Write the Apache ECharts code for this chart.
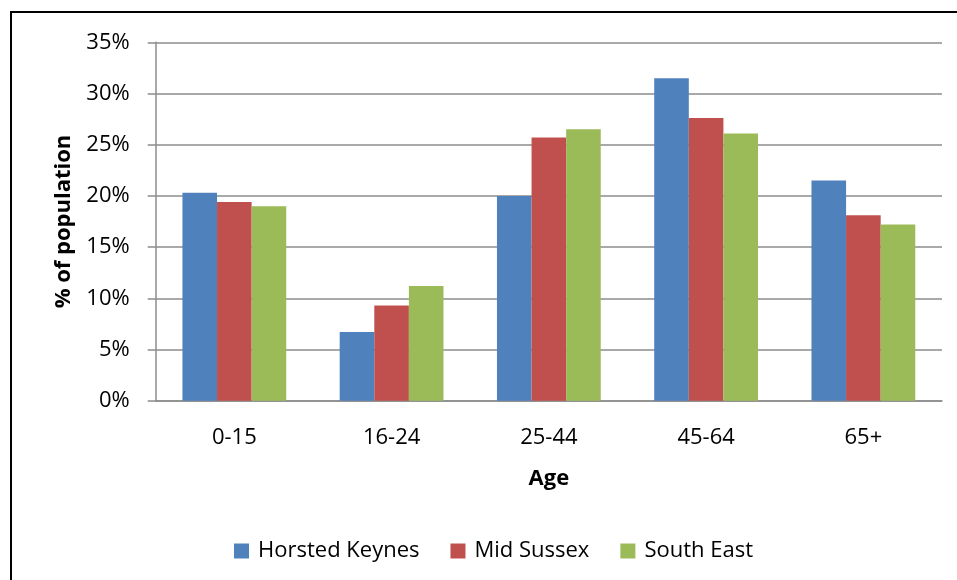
<!DOCTYPE html>
<html>
<head>
<meta charset="utf-8">
<script src="https://cdn.jsdelivr.net/npm/echarts@6/dist/echarts.min.js"></script>
<style>
html,body{margin:0;padding:0;background:#fff;}
#chart{width:957px;height:580px;}
</style>
</head>
<body>
<div id="chart"></div>
<script>
var categories = ['0-15', '16-24', '25-44', '45-64', '65+'];
var horstedKeynes = [20.3, 6.7, 20.0, 31.5, 21.5];
var midSussex = [19.4, 9.3, 25.7, 27.6, 18.1];
var southEast = [19.0, 11.2, 26.5, 26.1, 17.2];
var seriesNames = ['Horsted Keynes', 'Mid Sussex', 'South East'];
var yTicks = [0, 5, 10, 15, 20, 25, 30, 35];

var FONT = 'Open Sans';
var chart = echarts.init(document.getElementById('chart'));
function bar(name, data, color) {
  return {
    name: name, type: 'bar', data: data,
    barGap: '0%', barCategoryGap: '34%',
    itemStyle: { color: color },
    emphasis: { disabled: true }
  };
}
chart.setOption({
  animation: false,
  textStyle: { fontFamily: FONT },
  graphic: [{
    type: 'rect', silent: true,
    shape: { x: 11, y: 12, width: 1000, height: 1000 },
    style: { fill: 'none', stroke: '#000', lineWidth: 2 }
  }],
  grid: { left: 155.7, right: 15, top: 42.3, bottom: 179.3 },
  legend: {
    left: 229, top: 535,
    itemWidth: 15, itemHeight: 15, itemGap: 31,
    icon: 'rect',
    data: seriesNames,
    textStyle: { fontFamily: FONT, fontSize: 22, color: '#000', padding: [0, 0, 0, 4] }
  },
  xAxis: {
    type: 'category', data: categories,
    name: 'Age', nameLocation: 'middle', nameGap: 67,
    nameTextStyle: { fontFamily: FONT, fontSize: 22, fontWeight: 'bold', color: '#000' },
    axisLine: { lineStyle: { color: '#8c8c8c', width: 1.5 } },
    axisTick: { show: false },
    axisLabel: { fontFamily: FONT, fontSize: 22, color: '#000', margin: 26 }
  },
  yAxis: {
    type: 'value', min: 0, max: 35, interval: 5,
    name: '% of population', nameLocation: 'middle', nameGap: 81,
    nameTextStyle: { fontFamily: FONT, fontSize: 22, fontWeight: 'bold', color: '#000' },
    axisLine: { show: true, lineStyle: { color: '#8c8c8c', width: 1.5 } },
    axisTick: { show: true, length: 8, lineStyle: { color: '#8c8c8c', width: 1.5 } },
    splitLine: { lineStyle: { color: '#8c8c8c', width: 1.5 } },
    axisLabel: {
      fontFamily: FONT, fontSize: 22, color: '#000', margin: 26,
      formatter: function (v) { return yTicks.indexOf(v) >= 0 ? v + '%' : ''; }
    }
  },
  series: [
    bar(seriesNames[0], horstedKeynes, '#4F81BD'),
    bar(seriesNames[1], midSussex, '#C0504D'),
    bar(seriesNames[2], southEast, '#9BBB59')
  ]
});
</script>
</body>
</html>
